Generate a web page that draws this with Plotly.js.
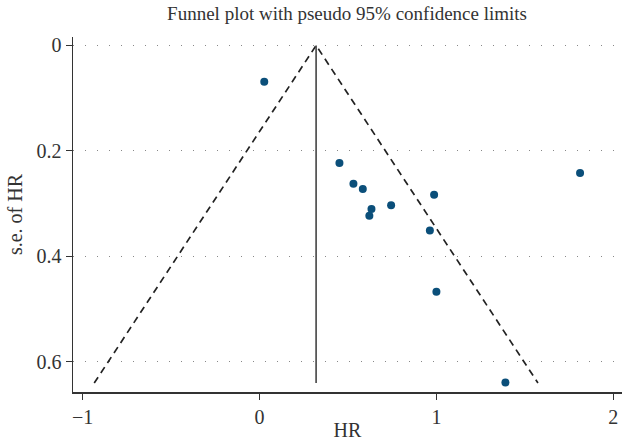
<!DOCTYPE html>
<html>
<head>
<meta charset="utf-8">
<script src="https://cdn.plot.ly/plotly-3.0.1.min.js"></script>
<style>html,body{margin:0;padding:0;background:#fff;}#chart{width:622px;height:441px;}</style>
</head>
<body>
<div id="chart"></div>
<script>
// Study estimates
const hr = [0.027, 0.452, 0.531, 0.584, 0.633, 0.621, 0.744, 0.987, 0.963, 1.000, 1.812, 1.390];
const seHR = [0.069, 0.223, 0.262, 0.272, 0.310, 0.323, 0.303, 0.283, 0.351, 0.467, 0.242, 0.639];
// Pooled estimate and pseudo 95% limits
const pooled = [0.32, 0.32];
const seLine = [0, 0.64];
const limitX = [-0.934, 0.32, 1.574];
const limitY = [0.64, 0, 0.64];
const xTicks = [-1, 0, 1, 2];
const yTicks = [0, 0.2, 0.4, 0.6];

const serif = '"Liberation Serif", "DejaVu Serif", serif';

const traces = [
  {x: limitX, y: limitY, type: 'scatter', mode: 'lines',
   line: {color: '#222', width: 1.7, dash: '7px,5px'}, hoverinfo: 'skip'},
  {x: pooled, y: seLine, type: 'scatter', mode: 'lines',
   line: {color: '#444', width: 1.6}, hoverinfo: 'skip'},
  {x: hr, y: seHR, type: 'scatter', mode: 'markers',
   marker: {color: '#0b4f7a', size: 8}}
];

const layout = {
  width: 622, height: 441,
  margin: {l: 73, r: 0, t: 37, b: 49},
  paper_bgcolor: '#fff', plot_bgcolor: '#fff',
  showlegend: false,
  font: {family: serif, color: '#333', size: 20},
  title: {text: 'Funnel plot with pseudo 95% confidence limits', x: 0.558, xanchor: 'center',
          y: 0.985, yanchor: 'top', font: {family: serif, size: 19, color: '#333'}},
  xaxis: {
    range: [-1.054, 2.049], tickvals: xTicks, ticks: 'outside', ticklen: 6, tickcolor: '#333',
    showline: true, linecolor: '#333', linewidth: 1.5, showgrid: false, zeroline: false,
    title: {text: 'HR', standoff: 0, font: {family: serif, size: 20, color: '#333'}},
    tickfont: {family: serif, size: 20, color: '#333'}
  },
  yaxis: {
    range: [0.657, -0.016], tickvals: yTicks, ticktext: ['0', '0.2', '0.4', '0.6'],
    ticks: 'outside', ticklen: 6, tickcolor: '#333',
    showline: true, linecolor: '#333', linewidth: 1.5, zeroline: false,
    showgrid: true, gridcolor: '#888', gridwidth: 1, griddash: '1px,11px',
    title: {text: 's.e. of HR', standoff: 8, font: {family: serif, size: 20, color: '#333'}},
    tickfont: {family: serif, size: 20, color: '#333'}
  }
};

Plotly.newPlot('chart', traces, layout, {displayModeBar: false, staticPlot: true});
</script>
</body>
</html>
